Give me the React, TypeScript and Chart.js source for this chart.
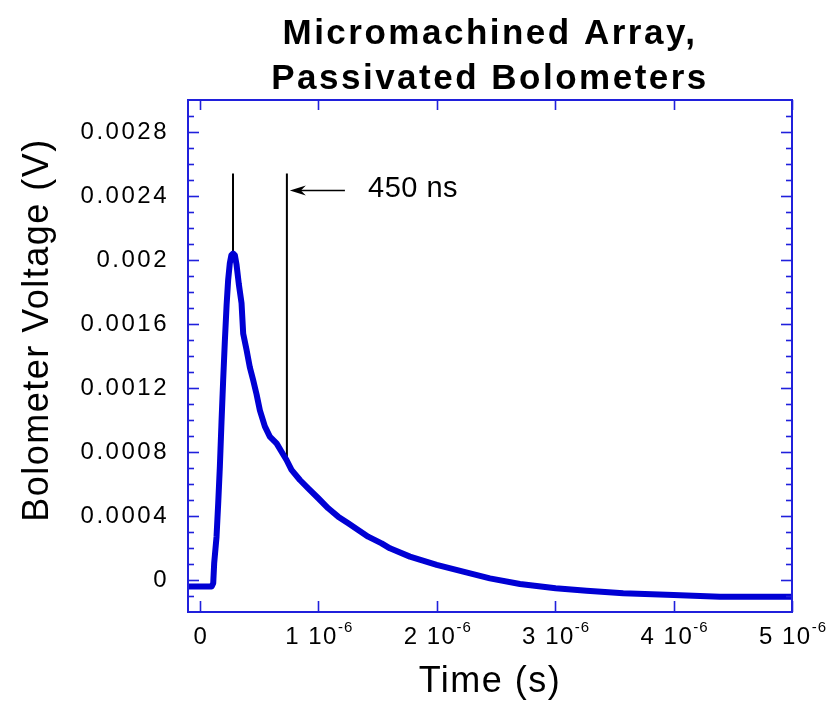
import { useEffect, useRef } from 'react';
import { Chart, registerables } from 'chart.js';

Chart.register(...registerables);

// ---------- data ----------
const TITLE_LINES = ['Micromachined Array,', 'Passivated Bolometers'];
const X_TITLE = 'Time (s)';
const Y_TITLE = 'Bolometer Voltage (V)';

const TIME_US = [
  -0.1, 0.0, 0.1, 0.113, 0.121, 0.141, 0.155, 0.169, 0.183, 0.197, 0.211, 0.226, 0.239, 0.253,
  0.266, 0.281, 0.296, 0.31, 0.329, 0.352, 0.366, 0.394, 0.422, 0.45, 0.479, 0.507, 0.549,
  0.591, 0.648, 0.69, 0.732, 0.774, 0.845, 0.915, 1.0, 1.084, 1.168, 1.253, 1.337, 1.421,
  1.535, 1.605, 1.774, 2.0, 2.224, 2.449, 2.703, 3.004, 3.266, 3.575, 4.0, 4.392, 5.0,
];
const VOLTAGE = [
  -0.00004, -0.00004, -0.00004, -0.00002, 0.000104, 0.000271, 0.000479, 0.000708, 0.000989,
  0.00125, 0.00149, 0.00172, 0.001875, 0.00198, 0.00203, 0.00204, 0.00203, 0.00197, 0.00185,
  0.00173, 0.00154, 0.00144, 0.00133, 0.00125, 0.00116, 0.00106, 0.00096, 0.000896, 0.000854,
  0.000802, 0.00075, 0.000688, 0.000625, 0.000573, 0.000511, 0.000448, 0.000396, 0.000354,
  0.000313, 0.000271, 0.000229, 0.000198, 0.000146, 0.000094, 0.000052, 0.00001, -0.000025,
  -0.000052, -0.000067, -0.000083, -0.000094, -0.000104, -0.000104,
];

const X_TICKS_US = [0, 1, 2, 3, 4, 5];
const X_TICK_MAIN = ['0', '1 10', '2 10', '3 10', '4 10', '5 10'];
const X_TICK_EXP = ['', '-6', '-6', '-6', '-6', '-6'];
const Y_MAJOR = [0, 0.0004, 0.0008, 0.0012, 0.0016, 0.002, 0.0024, 0.0028];
const Y_MINOR = [
  -0.0001, 0.0001, 0.0002, 0.0003, 0.0005, 0.0006, 0.0007, 0.0009, 0.001, 0.0011, 0.0013,
  0.0014, 0.0015, 0.0017, 0.0018, 0.0019, 0.0021, 0.0022, 0.0023, 0.0025, 0.0026, 0.0027, 0.0029,
];
const X_MIN_US = -0.1;
const X_MAX_US = 5;
const Y_MIN = -0.0002;
const Y_MAX = 0.003;

// annotation
const MARK_TIMES_US = [0.28, 0.735];
const MARK_TOP = 0.00254;
const MARK_BOTTOMS = [0.00204, 0.00076];
const ARROW_FROM_US = 1.225;
const ARROW_TO_US = 0.76;
const ARROW_V = 0.00244;
const NOTE_TEXT = '450 ns';
const NOTE_US = 1.42;
const NOTE_V = 0.002394;

const AXIS_COLOR = '#2020dc';
const CURVE_COLOR = '#0000d4';
const FONT = '"Liberation Sans", Arial, Helvetica, sans-serif';

const us = (v: number) => v * 1e-6;

const spacingPlugin = {
  id: 'spacing',
  beforeDraw(chart: any) {
    (chart.ctx as any).letterSpacing = '2.5px';
  },
};

const overlayPlugin = {
  id: 'overlay',
  afterDraw(chart: any) {
    const { ctx, chartArea: a, scales } = chart;
    const x = scales.x;
    const y = scales.y;
    ctx.save();
    const ls = (v: string) => {
      (ctx as any).letterSpacing = v;
    };

    // frame
    ctx.strokeStyle = AXIS_COLOR;
    ctx.lineWidth = 2;
    ctx.strokeRect(a.left, a.top, a.right - a.left, a.bottom - a.top);

    const seg = (x1: number, y1: number, x2: number, y2: number) => {
      ctx.beginPath();
      ctx.moveTo(x1, y1);
      ctx.lineTo(x2, y2);
      ctx.stroke();
    };

    // y ticks (left & right, inward)
    ctx.lineWidth = 1.6;
    for (const v of Y_MINOR) {
      const py = Math.round(y.getPixelForValue(v)) + 0.5;
      seg(a.left, py, a.left + 6, py);
      seg(a.right - 6, py, a.right, py);
    }
    for (const v of Y_MAJOR) {
      const py = Math.round(y.getPixelForValue(v)) + 0.5;
      seg(a.left, py, a.left + 11, py);
      seg(a.right - 11, py, a.right, py);
    }
    // x ticks (top & bottom, inward)
    for (const t of X_TICKS_US) {
      const px = Math.round(x.getPixelForValue(us(t))) + 0.5;
      seg(px, a.bottom, px, a.bottom - 11);
      seg(px, a.top, px, a.top + 10);
    }

    // x tick labels with superscript exponent
    ctx.fillStyle = '#000';
    ctx.textBaseline = 'alphabetic';
    ctx.textAlign = 'left';
    X_TICKS_US.forEach((t, i) => {
      const px = x.getPixelForValue(us(t));
      ls('1.5px');
      ctx.font = `24px ${FONT}`;
      const wMain = ctx.measureText(X_TICK_MAIN[i]).width;
      ls('1px');
      ctx.font = `15px ${FONT}`;
      const wExp = X_TICK_EXP[i] ? ctx.measureText(X_TICK_EXP[i]).width : 0;
      const start = px - (wMain + wExp) / 2 + 1;
      ls('1.5px');
      ctx.font = `24px ${FONT}`;
      ctx.fillText(X_TICK_MAIN[i], start, 644);
      if (X_TICK_EXP[i]) {
        ls('1px');
        ctx.font = `15px ${FONT}`;
        ctx.fillText(X_TICK_EXP[i], start + wMain, 632);
      }
    });

    const cx = (a.left + a.right) / 2;
    // x title
    ls('1.5px');
    ctx.font = `36px ${FONT}`;
    ctx.textAlign = 'center';
    ctx.fillText(X_TITLE, cx, 692);

    // y title
    ctx.save();
    ctx.translate(48, 330);
    ctx.rotate(-Math.PI / 2);
    ctx.fillText(Y_TITLE, 0, 0);
    ctx.restore();

    // chart title
    ls('2.5px');
    ctx.font = `bold 35px ${FONT}`;
    ctx.fillText(TITLE_LINES[0], cx, 44);
    ctx.fillText(TITLE_LINES[1], cx, 89);

    // annotation arrow + text
    const ay = Math.round(y.getPixelForValue(ARROW_V)) + 0.5;
    const ax1 = x.getPixelForValue(us(ARROW_FROM_US));
    const ax2 = x.getPixelForValue(us(ARROW_TO_US));
    ctx.strokeStyle = '#000';
    ctx.fillStyle = '#000';
    ctx.lineWidth = 1.5;
    seg(ax1, ay, ax2 + 6, ay);
    ctx.beginPath();
    ctx.moveTo(ax2, ay);
    ctx.lineTo(ax2 + 16, ay - 5);
    ctx.lineTo(ax2 + 11, ay);
    ctx.lineTo(ax2 + 16, ay + 5);
    ctx.closePath();
    ctx.fill();

    ls('0.5px');
    ctx.font = `29px ${FONT}`;
    ctx.textAlign = 'left';
    ctx.fillText(NOTE_TEXT, x.getPixelForValue(us(NOTE_US)), y.getPixelForValue(NOTE_V));

    ctx.restore();
  },
};

export default function App() {
  const ref = useRef<HTMLCanvasElement | null>(null);

  useEffect(() => {
    if (!ref.current) return;
    const curve = TIME_US.map((t, i) => ({ x: us(t), y: VOLTAGE[i] }));
    const markLines = MARK_TIMES_US.map((t, i) => ({
      data: [
        { x: us(t), y: MARK_TOP },
        { x: us(t), y: MARK_BOTTOMS[i] },
      ],
      borderColor: '#000',
      borderWidth: 2,
      pointRadius: 0,
      showLine: true,
      fill: false,
    }));

    const chart = new Chart(ref.current, {
      type: 'scatter',
      data: {
        datasets: [
          {
            data: curve,
            showLine: true,
            borderColor: CURVE_COLOR,
            backgroundColor: CURVE_COLOR,
            borderWidth: 6,
            borderJoinStyle: 'round',
            borderCapStyle: 'round',
            pointRadius: 0,
            tension: 0,
            fill: false,
          },
          ...markLines,
        ],
      },
      options: {
        animation: false,
        responsive: true,
        maintainAspectRatio: false,
        devicePixelRatio: 1,
        layout: { padding: { left: 0, right: 48, top: 100, bottom: 0 } },
        plugins: {
          legend: { display: false },
          tooltip: { enabled: false },
          title: { display: false },
        },
        scales: {
          x: {
            type: 'linear',
            min: us(X_MIN_US),
            max: us(X_MAX_US),
            grid: { display: false },
            border: { display: false },
            ticks: { display: false },
            afterFit: (s: any) => {
              s.height = 92;
            },
          },
          y: {
            type: 'linear',
            min: Y_MIN,
            max: Y_MAX,
            grid: { display: false },
            border: { display: false },
            afterBuildTicks: (s: any) => {
              s.ticks = Y_MAJOR.map((value) => ({ value }));
            },
            ticks: {
              padding: 11,
              color: '#000',
              font: { family: FONT, size: 24 },
              callback: (v: any) => (Number(v) === 0 ? '0' : String(+Number(v).toFixed(4))),
            },
            afterFit: (s: any) => {
              s.width = 188;
            },
          },
        },
      },
      plugins: [spacingPlugin, overlayPlugin],
    });
    return () => chart.destroy();
  }, []);

  return (
    <div style={{ position: 'fixed', left: 0, top: 0, width: 840, height: 704, background: '#fff' }}>
      <canvas ref={ref} />
    </div>
  );
}
